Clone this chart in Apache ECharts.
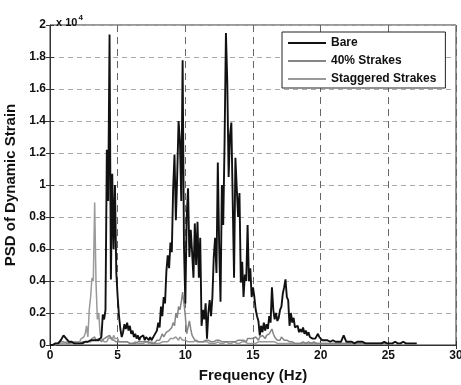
<!DOCTYPE html>
<html>
<head>
<meta charset="utf-8">
<script src="https://cdn.jsdelivr.net/npm/echarts@6/dist/echarts.min.js"></script>
<style>
  html, body { margin: 0; padding: 0; background: #fff; }
  #chart { width: 461px; height: 385px; }
</style>
</head>
<body>
<div id="chart"></div>
<script>
// Power spectral density of dynamic strain, sampled every 0.1 Hz from 0 Hz.
// Values are in units of 10^4.
const FREQ_STEP = 0.1;

const bare = [
  0.00,0.00,0.00,0.01,0.01,0.02,0.01,0.02,0.03,0.04,
  0.06,0.05,0.04,0.03,0.02,0.03,0.02,0.02,0.01,0.02,
  0.01,0.02,0.01,0.02,0.01,0.01,0.02,0.01,0.02,0.02,
  0.03,0.02,0.03,0.02,0.03,0.04,0.03,0.04,0.05,0.19,
  0.16,0.22,1.22,0.90,1.94,0.41,1.07,0.60,1.00,0.45,
  0.30,0.18,0.10,0.05,0.08,0.13,0.10,0.14,0.09,0.12,
  0.07,0.09,0.05,0.07,0.04,0.06,0.03,0.05,0.04,0.06,
  0.03,0.05,0.04,0.03,0.05,0.03,0.04,0.06,0.05,0.09,
  0.14,0.11,0.24,0.18,0.30,0.26,0.46,0.56,0.48,0.64,
  0.58,0.98,1.19,0.78,1.06,1.40,1.28,0.90,1.78,0.62,
  0.26,0.80,0.98,0.55,0.72,0.58,0.42,0.76,0.50,0.77,
  0.42,0.67,0.12,0.22,0.16,0.26,0.04,0.20,0.28,0.18,
  0.30,0.55,0.67,0.45,1.14,0.62,0.27,1.00,0.75,1.27,
  1.95,1.64,1.05,1.31,1.39,1.40,0.42,1.17,0.98,0.80,
  0.95,0.39,0.52,0.30,0.44,0.40,0.75,0.40,0.48,0.30,
  0.36,0.30,0.22,0.18,0.15,0.06,0.12,0.08,0.14,0.09,
  0.13,0.10,0.18,0.14,0.36,0.22,0.16,0.20,0.15,0.17,
  0.22,0.24,0.32,0.36,0.41,0.30,0.28,0.12,0.20,0.14,
  0.17,0.11,0.10,0.12,0.08,0.10,0.08,0.11,0.07,0.09,
  0.06,0.08,0.05,0.06,0.04,0.05,0.04,0.03,0.07,0.05,
  0.04,0.03,0.04,0.03,0.04,0.03,0.04,0.02,0.03,0.03,
  0.04,0.02,0.03,0.02,0.03,0.02,0.04,0.06,0.04,0.02,
  0.03,0.02,0.03,0.02,0.02,0.01,0.02,0.02,0.01,0.02,
  0.01,0.02,0.01,0.01,0.02,0.01,0.01,0.01,0.02,0.01,
  0.01,0.01,0.02,0.01,0.01,0.01,0.01,0.02,0.01,0.01,
  0.02,0.01,0.01,0.01,0.01,0.02,0.01,0.01,0.01,0.01,
  0.01,0.02,0.01,0.01,0.01,0.01,0.02,0.01,0.01,0.01,
  0.01,0.01
];

const strakes40 = [
  0.00,0.01,0.00,0.01,0.01,0.00,0.01,0.01,0.02,0.01,
  0.02,0.01,0.01,0.02,0.01,0.01,0.02,0.01,0.01,0.02,
  0.01,0.02,0.01,0.02,0.02,0.01,0.02,0.03,0.02,0.03,
  0.02,0.04,0.03,0.05,0.03,0.02,0.04,0.03,0.02,0.03,
  0.04,0.03,0.05,0.04,0.06,0.04,0.05,0.03,0.04,0.02,
  0.03,0.02,0.03,0.02,0.01,0.02,0.01,0.02,0.02,0.01,
  0.02,0.01,0.02,0.01,0.02,0.02,0.01,0.02,0.01,0.02,
  0.01,0.02,0.01,0.02,0.01,0.01,0.02,0.01,0.02,0.03,
  0.04,0.03,0.05,0.07,0.05,0.06,0.08,0.07,0.09,0.08,
  0.11,0.14,0.12,0.20,0.17,0.24,0.22,0.27,0.33,0.26,
  0.18,0.07,0.11,0.15,0.10,0.06,0.05,0.03,0.04,0.02,
  0.03,0.02,0.03,0.02,0.02,0.03,0.02,0.03,0.02,0.02,
  0.03,0.02,0.02,0.03,0.02,0.03,0.02,0.02,0.03,0.02,
  0.03,0.02,0.03,0.02,0.03,0.02,0.03,0.02,0.02,0.03,
  0.02,0.03,0.02,0.03,0.03,0.02,0.04,0.03,0.04,0.03,
  0.04,0.03,0.05,0.04,0.03,0.05,0.04,0.06,0.05,0.04,
  0.06,0.05,0.07,0.06,0.10,0.07,0.05,0.04,0.03,0.04,
  0.03,0.05,0.04,0.03,0.02,0.03,0.02,0.02,0.03,0.02,
  0.02,0.01,0.02,0.01,0.02,0.01,0.01,0.02,0.01,0.01,
  0.01,0.02,0.01,0.01,0.01,0.02,0.01,0.01,0.01,0.01,
  0.01,0.01,0.02,0.01,0.01,0.01,0.01,0.01,0.02,0.01,
  0.01,0.01,0.01,0.01,0.01,0.01,0.01,0.01,0.01,0.01,
  0.01,0.01,0.01,0.01,0.01,0.01,0.01,0.01,0.01,0.01,
  0.01,0.01,0.01,0.01,0.01,0.01,0.01,0.01,0.01,0.01,
  0.01,0.01,0.01,0.01,0.01,0.01,0.01,0.01,0.01,0.01
];

const staggered = [
  0.00,0.00,0.00,0.01,0.00,0.01,0.01,0.00,0.01,0.02,
  0.01,0.01,0.02,0.01,0.01,0.00,0.01,0.01,0.02,0.01,
  0.02,0.03,0.02,0.04,0.03,0.05,0.07,0.12,0.05,0.22,
  0.30,0.42,0.40,0.89,0.39,0.16,0.20,0.07,0.04,0.03,
  0.02,0.03,0.02,0.04,0.03,0.05,0.03,0.06,0.04,0.03,
  0.04,0.02,0.03,0.02,0.01,0.02,0.01,0.02,0.01,0.01,
  0.02,0.01,0.01,0.02,0.01,0.01,0.02,0.01,0.01,0.01,
  0.01,0.02,0.01,0.01,0.01,0.02,0.01,0.01,0.02,0.01,
  0.02,0.01,0.02,0.02,0.03,0.02,0.03,0.02,0.03,0.04,
  0.03,0.04,0.03,0.05,0.04,0.03,0.05,0.04,0.03,0.04,
  0.03,0.04,0.02,0.03,0.02,0.03,0.02,0.02,0.03,0.02,
  0.02,0.01,0.02,0.01,0.02,0.01,0.02,0.01,0.01,0.02,
  0.01,0.02,0.01,0.01,0.02,0.01,0.01,0.02,0.01,0.01,
  0.02,0.01,0.01,0.02,0.01,0.01,0.02,0.01,0.01,0.02,
  0.01,0.01,0.02,0.01,0.02,0.01,0.01,0.02,0.01,0.02,
  0.01,0.02,0.01,0.02,0.02,0.01,0.02,0.01,0.02,0.01,
  0.02,0.01,0.02,0.03,0.02,0.01,0.02,0.01,0.01,0.02,
  0.01,0.02,0.01,0.01,0.01,0.02,0.01,0.01,0.01,0.01,
  0.01,0.01,0.01,0.02,0.01,0.01,0.01,0.01,0.01,0.01,
  0.01,0.01,0.01,0.01,0.01,0.01,0.01,0.01,0.01,0.01,
  0.01,0.01,0.01,0.01,0.01,0.01,0.01,0.01,0.01,0.01,
  0.01,0.01,0.01,0.01,0.01,0.01,0.01,0.01,0.01,0.01,
  0.01,0.01,0.01,0.01,0.01,0.01,0.01,0.01,0.01,0.01,
  0.01,0.01,0.01,0.01,0.01,0.01,0.01,0.01,0.01,0.01,
  0.01,0.01,0.01,0.01,0.01,0.01,0.01,0.01,0.01,0.01
];

const seriesNames = ['Bare', '40% Strakes', 'Staggered Strakes'];
const xTicks = [0, 30, 5];      // min, max, interval (Hz)
const yTicks = [0, 2, 0.2];     // min, max, interval (x 10^4)

const FONT = '"Liberation Sans", Arial, Helvetica, sans-serif';

function toPairs(values) {
  return values.map((v, i) => [+(i * FREQ_STEP).toFixed(1), v]);
}

const chart = echarts.init(document.getElementById('chart'), null, { renderer: 'canvas' });

const tickLabel = { color: '#111', fontFamily: FONT, fontWeight: 'bold', fontSize: 12 };

chart.setOption({
  animation: false,
  backgroundColor: '#fff',
  title: {
    text: '{a|x 10}{b|4}',
    left: 51,
    top: 6,
    textStyle: {
      rich: {
        a: { fontFamily: FONT, fontWeight: 'bold', fontSize: 11, color: '#111', padding: [6, 0, 0, 0] },
        b: { fontFamily: FONT, fontWeight: 'bold', fontSize: 8, color: '#111', padding: [0, 0, 4, 1] }
      }
    }
  },
  legend: {
    data: seriesNames,
    orient: 'vertical',
    left: 282,
    top: 32,
    padding: [4, 9, 2, 6],
    itemGap: 4,
    itemWidth: 38,
    itemHeight: 2,
    icon: 'rect',
    backgroundColor: '#fff',
    borderColor: '#222',
    borderWidth: 1,
    borderRadius: 0,
    textStyle: { fontFamily: FONT, fontWeight: 'bold', fontSize: 12, color: '#111', lineHeight: 14 }
  },
  grid: {
    left: 50,
    right: 5,
    top: 25,
    bottom: 40,
    show: true,
    borderColor: '#333',
    borderWidth: 1,
    backgroundColor: '#fff',
    containLabel: false,
    outerBoundsMode: 'none'
  },
  xAxis: [
    {
      type: 'value',
      min: xTicks[0], max: xTicks[1], interval: xTicks[2],
      name: 'Frequency (Hz)',
      nameLocation: 'middle',
      nameGap: 23,
      nameTextStyle: { fontFamily: FONT, fontWeight: 'bold', fontSize: 15, color: '#111' },
      axisLine: { show: true, lineStyle: { color: '#333', width: 1 } },
      axisTick: { show: true, inside: true, length: 4, lineStyle: { color: '#333' } },
      axisLabel: Object.assign({ margin: 5 }, tickLabel),
      splitLine: { show: true, lineStyle: { color: '#666', type: [7, 5], width: 1 } }
    },
    {
      type: 'value', position: 'top',
      min: xTicks[0], max: xTicks[1], interval: xTicks[2],
      axisLine: { show: false },
      axisTick: { show: true, inside: true, length: 4, lineStyle: { color: '#333' } },
      axisLabel: { show: false },
      splitLine: { show: false }
    }
  ],
  yAxis: [
    {
      type: 'value',
      min: yTicks[0], max: yTicks[1], interval: yTicks[2],
      name: 'PSD of Dynamic Strain',
      nameLocation: 'middle',
      nameGap: 31,
      nameRotate: 90,
      nameTextStyle: { fontFamily: FONT, fontWeight: 'bold', fontSize: 15, color: '#111' },
      axisLine: { show: true, lineStyle: { color: '#333', width: 1 } },
      axisTick: { show: true, inside: true, length: 4, lineStyle: { color: '#333' } },
      axisLabel: Object.assign({
        margin: 4,
        formatter: v => String(+v.toFixed(1))
      }, tickLabel),
      splitLine: { show: true, lineStyle: { color: '#aaa', type: [5, 4], width: 1 } }
    },
    {
      type: 'value', position: 'right',
      min: yTicks[0], max: yTicks[1], interval: yTicks[2],
      axisLine: { show: false },
      axisTick: { show: true, inside: true, length: 4, lineStyle: { color: '#333' } },
      axisLabel: { show: false },
      splitLine: { show: false }
    }
  ],
  series: [
    {
      name: seriesNames[2],
      type: 'line',
      data: toPairs(staggered),
      symbol: 'none',
      lineStyle: { color: '#9a9a9a', width: 1.5 },
      itemStyle: { color: '#9a9a9a' },
      z: 2
    },
    {
      name: seriesNames[1],
      type: 'line',
      data: toPairs(strakes40),
      symbol: 'none',
      lineStyle: { color: '#858585', width: 1.5 },
      itemStyle: { color: '#858585' },
      z: 3
    },
    {
      name: seriesNames[0],
      type: 'line',
      data: toPairs(bare),
      symbol: 'none',
      lineStyle: { color: '#111', width: 1.9 },
      itemStyle: { color: '#111' },
      z: 4
    }
  ]
});
</script>
</body>
</html>
